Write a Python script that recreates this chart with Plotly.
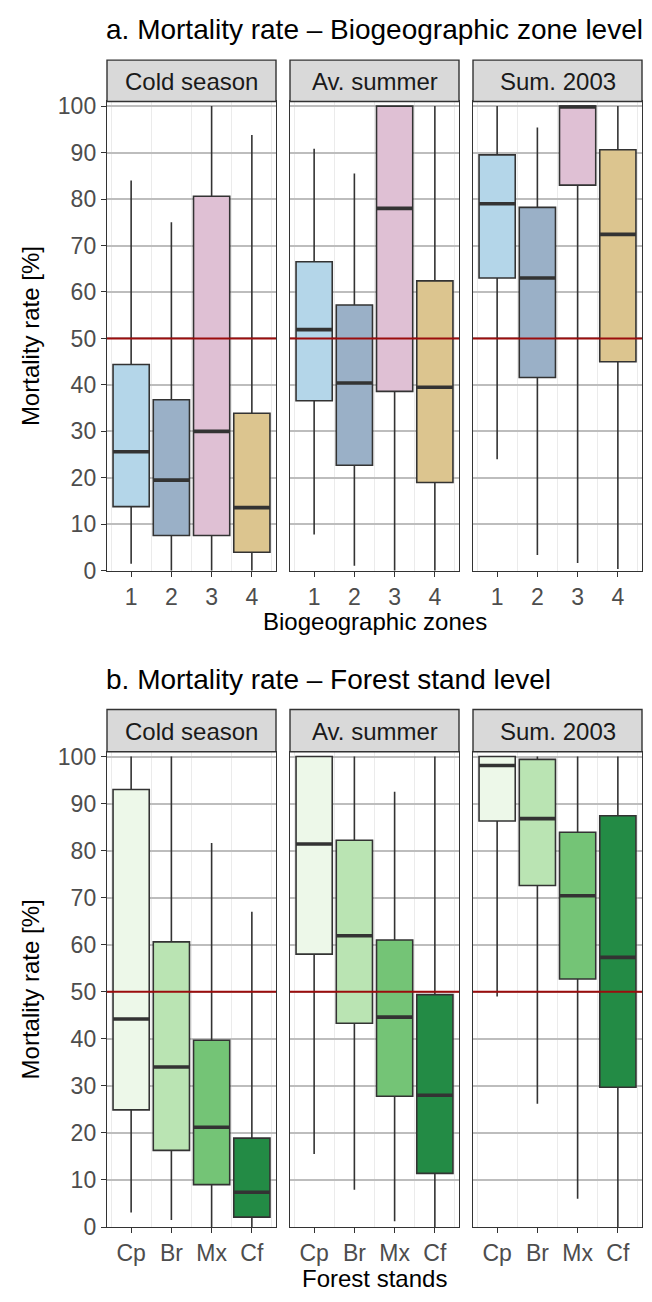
"""
Mortality rate boxplots - biogeographic zones and forest stands
"""

import plotly.graph_objects as go

SEASONS = ["Cold season", "Av. summer", "Sum. 2003"]
ZONES = ["1", "2", "3", "4"]
STANDS = ["Cp", "Br", "Mx", "Cf"]

# a. zone level (one list per season, zones 1-4)
zone_low = [[1.5, 0, 0, 0], [7.8, 1.1, 0, 0], [24, 3.4, 1.7, 0.4]]
zone_q1 = [[13.8, 7.6, 7.6, 4.0], [36.6, 22.7, 38.6, 19.0], [63.0, 41.6, 83.0, 45.0]]
zone_med = [[25.6, 19.5, 30.0, 13.6], [51.9, 40.4, 78.0, 39.5], [79.0, 63.0, 99.8, 72.4]]
zone_q3 = [[44.4, 36.8, 80.6, 33.9], [66.5, 57.2, 100, 62.4], [89.5, 78.2, 100, 90.6]]
zone_high = [[84.0, 75.0, 100, 93.8], [90.8, 85.5, 100, 100], [100, 95.4, 100, 100]]

# b. forest stand level (one list per season, Cp, Br, Mx, Cf)
stand_low = [[3.1, 1.5, 0, 0], [15.5, 7.9, 1.2, 0], [49.0, 26.2, 6.0, 0]]
stand_q1 = [[24.9, 16.3, 9.0, 2.1], [58.0, 43.3, 27.8, 11.4], [86.3, 72.6, 52.7, 29.7]]
stand_med = [[44.2, 34.0, 21.2, 7.4], [81.4, 61.9, 44.6, 28.0], [98.1, 86.8, 70.4, 57.3]]
stand_q3 = [[93.0, 60.6, 39.7, 18.9], [100, 82.2, 61.0, 49.4], [100, 99.4, 83.9, 87.4]]
stand_high = [[100, 100, 81.6, 67.0], [100, 100, 92.5, 100], [100, 100, 100, 100]]

Y_TICKS = [0, 10, 20, 30, 40, 50, 60, 70, 80, 90, 100]
THRESHOLD = 50
X_RANGE = [0.4, 4.6]

ZONE_COLORS = ["#b4d6e9", "#9ab0c7", "#dfc0d4", "#dcc58f"]
STAND_COLORS = ["#edf8e9", "#bae4b3", "#74c476", "#238b45"]

W, H = 652, 1302
FONT = "Liberation Sans, Arial, sans-serif"
DARK = "#333333"

# panel geometry in pixels
COL_X = [(107, 276), (290, 459), (473, 642)]
ROW_Y = [(95, 572), (756, 1239)]
STRIP_TOP = [53, 713]


def px_x(v):
    return v / W


def px_y(v):
    return 1 - v / H


def add_panel(fig, idx, q1, med, q3, low, high, colors):
    """Adds the 50% line, one box per category and a thick median."""
    xa = "x" if idx == 1 else f"x{idx}"
    ya = "y" if idx == 1 else f"y{idx}"

    fig.add_trace(
        go.Scatter(
            x=X_RANGE,
            y=[THRESHOLD, THRESHOLD],
            mode="lines",
            line=dict(color="#9b0d0d", width=2),
            xaxis=xa,
            yaxis=ya,
            showlegend=False,
            hoverinfo="skip"
        )
    )

    for i in range(len(q1)):
        fig.add_trace(
            go.Box(
                x=[i + 1],
                q1=[q1[i]],
                median=[med[i]],
                q3=[q3[i]],
                lowerfence=[low[i]],
                upperfence=[high[i]],
                width=0.9,
                whiskerwidth=0,
                fillcolor=colors[i],
                line=dict(color=DARK, width=1.6),
                boxpoints=False,
                xaxis=xa,
                yaxis=ya,
                showlegend=False,
                hoverinfo="skip"
            )
        )
        fig.add_trace(
            go.Box(
                x=[i + 1],
                q1=[med[i]],
                median=[med[i]],
                q3=[med[i]],
                lowerfence=[med[i]],
                upperfence=[med[i]],
                width=0.9,
                whiskerwidth=0,
                fillcolor="rgba(0,0,0,0)",
                line=dict(color=DARK, width=3.6),
                boxpoints=False,
                xaxis=xa,
                yaxis=ya,
                showlegend=False,
                hoverinfo="skip"
            )
        )


fig = go.Figure()

data = [
    (zone_q1, zone_med, zone_q3, zone_low, zone_high, ZONE_COLORS, ZONES),
    (stand_q1, stand_med, stand_q3, stand_low, stand_high, STAND_COLORS, STANDS),
]

layout = dict(
    width=W,
    height=H,
    autosize=False,
    margin=dict(l=0, r=0, t=0, b=0),
    plot_bgcolor="white",
    paper_bgcolor="white",
    font=dict(family=FONT, color="#000000"),
    showlegend=False,
    boxmode="overlay",
)
shapes = []
annotations = []

for r in range(2):
    q1s, meds, q3s, lows, highs, colors, labels = data[r]
    for c in range(3):
        idx = r * 3 + c + 1
        add_panel(fig, idx, q1s[c], meds[c], q3s[c], lows[c], highs[c], colors)

        x0, x1 = COL_X[c]
        y0, y1 = ROW_Y[r]
        key = "" if idx == 1 else str(idx)
        layout[f"xaxis{key}"] = dict(
            domain=[px_x(x0), px_x(x1)],
            anchor=f"y{key}",
            range=X_RANGE,
            tickvals=[1, 2, 3, 4],
            ticktext=labels,
            ticks="outside",
            ticklen=5,
            tickwidth=1.3,
            tickcolor=DARK,
            tickfont=dict(size=23, color="#4d4d4d"),
            showgrid=False,
            minor=dict(
                tickvals=[0.5, 1.5, 2.5, 3.5, 4.5],
                showgrid=True,
                gridcolor="#ebebeb",
                gridwidth=1,
                ticks=""
            ),
            zeroline=False,
            showline=True,
            mirror=True,
            linecolor=DARK,
            linewidth=1.4,
            fixedrange=True
        )
        layout[f"yaxis{key}"] = dict(
            domain=[px_y(y1), px_y(y0)],
            anchor=f"x{key}",
            range=[0, 101],
            tickvals=Y_TICKS,
            ticks="outside" if c == 0 else "",
            ticklen=5,
            tickwidth=1.3,
            tickcolor=DARK,
            showticklabels=(c == 0),
            tickfont=dict(size=23, color="#4d4d4d"),
            showgrid=True,
            gridcolor="#bdbdbd",
            gridwidth=2.3,
            zeroline=False,
            showline=True,
            mirror=True,
            linecolor=DARK,
            linewidth=1.4,
            fixedrange=True
        )

        # facet strip
        shapes.append(dict(
            type="rect",
            xref="paper", yref="paper",
            x0=px_x(x0), x1=px_x(x1),
            y0=px_y(y0), y1=px_y(STRIP_TOP[r]),
            fillcolor="#d9d9d9",
            line=dict(color=DARK, width=1.4),
            layer="above"
        ))
        annotations.append(dict(
            text=SEASONS[c],
            xref="paper", yref="paper",
            x=px_x((x0 + x1) / 2),
            y=px_y((STRIP_TOP[r] + y0) / 2 + 1),
            showarrow=False,
            xanchor="center", yanchor="middle",
            font=dict(size=24, color="#1a1a1a")
        ))

titles = [
    ("a. Mortality rate \u2013 Biogeographic zone level", 22, "Biogeographic zones", 624),
    ("b. Mortality rate \u2013 Forest stand level", 683, "Forest stands", 1291),
]
for r, (title, ty, xtitle, xty) in enumerate(titles):
    annotations.append(dict(
        text=title,
        xref="paper", yref="paper",
        x=px_x(104), y=px_y(ty),
        showarrow=False,
        xanchor="left", yanchor="middle",
        font=dict(size=28, color="#000000")
    ))
    annotations.append(dict(
        text=xtitle,
        xref="paper", yref="paper",
        x=px_x((COL_X[0][0] + COL_X[2][1]) / 2), y=px_y(xty),
        showarrow=False,
        borderpad=0,
        xanchor="center", yanchor="middle",
        font=dict(size=24, color="#000000")
    ))
    annotations.append(dict(
        text="Mortality rate [%]",
        xref="paper", yref="paper",
        x=px_x(30), y=px_y(sum(ROW_Y[r]) / 2),
        textangle=-90,
        showarrow=False,
        xanchor="center", yanchor="middle",
        font=dict(size=24, color="#000000")
    ))

layout["shapes"] = shapes
layout["annotations"] = annotations
fig.update_layout(**layout)

# the page body has a default 8px margin; drop it so pixels line up
fig.write_html(
    "out.html",
    config={"displayModeBar": False},
    post_script="document.body.style.margin = '0';"
)
